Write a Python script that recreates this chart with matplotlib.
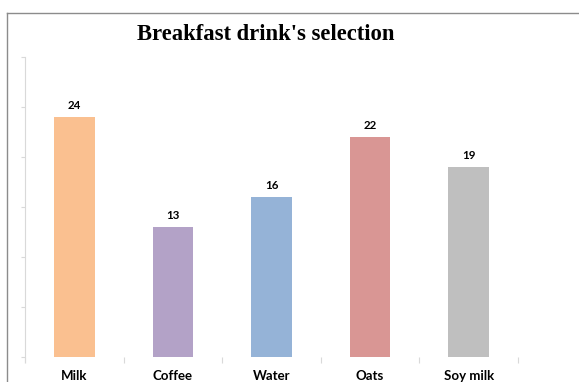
import matplotlib
matplotlib.use('Agg')
import matplotlib.pyplot as plt
from matplotlib.lines import Line2D

drinks = ['Milk', 'Coffee', 'Water', 'Oats', 'Soy milk']
counts = [24, 13, 16, 22, 19]
colors = ['#FAC090', '#B3A2C7', '#95B3D7', '#D99694', '#BFBFBF']

W, H = 579, 382
fig = plt.figure(figsize=(W / 100, H / 100), dpi=100)

# outer chart frame (only top and left edges are visible)
fig.add_artist(Line2D([7.5 / W, 1.0], [1 - 12.5 / H, 1 - 12.5 / H], color='#8c8c8c', lw=1.0))
fig.add_artist(Line2D([7.5 / W, 7.5 / W], [0, 1 - 12.5 / H], color='#8c8c8c', lw=1.0))

ax = fig.add_axes([25 / W, (H - 357) / H, 493 / W, 300 / H])
x = range(len(drinks))
bars = ax.bar(x, counts, width=0.41, color=colors)
for b, v in zip(bars, counts):
    ax.text(b.get_x() + b.get_width() / 2, v + 0.6, str(v), ha='center', va='bottom',
            fontsize=8.3, fontweight='bold', family='Lato')

ax.set_xlim(-0.5, len(drinks) - 0.5)
ax.set_ylim(0, 30)
ax.set_yticks(range(0, 31, 5))
ax.set_yticklabels([])
ax.tick_params(axis='y', length=3, color='#d9d9d9', width=0.8)

ax.set_xticks(list(x))
ax.set_xticklabels(drinks, fontsize=9.5, fontweight='bold', family='Lato')
ax.set_xticks([i - 0.5 for i in range(len(drinks) + 1)], minor=True)
ax.tick_params(axis='x', which='major', length=0, pad=9)
ax.tick_params(axis='x', which='minor', length=4, color='#d9d9d9', width=0.8)

for s in ['top', 'right', 'bottom']:
    ax.spines[s].set_visible(False)
ax.spines['left'].set_color('#d9d9d9')
ax.spines['left'].set_linewidth(0.8)
ax.spines['left'].set_bounds(-0.5, 30)

fig.text(266 / W, 1 - 34 / H, "Breakfast drink's selection", ha='center', va='center',
         fontsize=16.3, fontweight='bold', family='Liberation Serif')

fig.savefig('out.png', dpi=100)
